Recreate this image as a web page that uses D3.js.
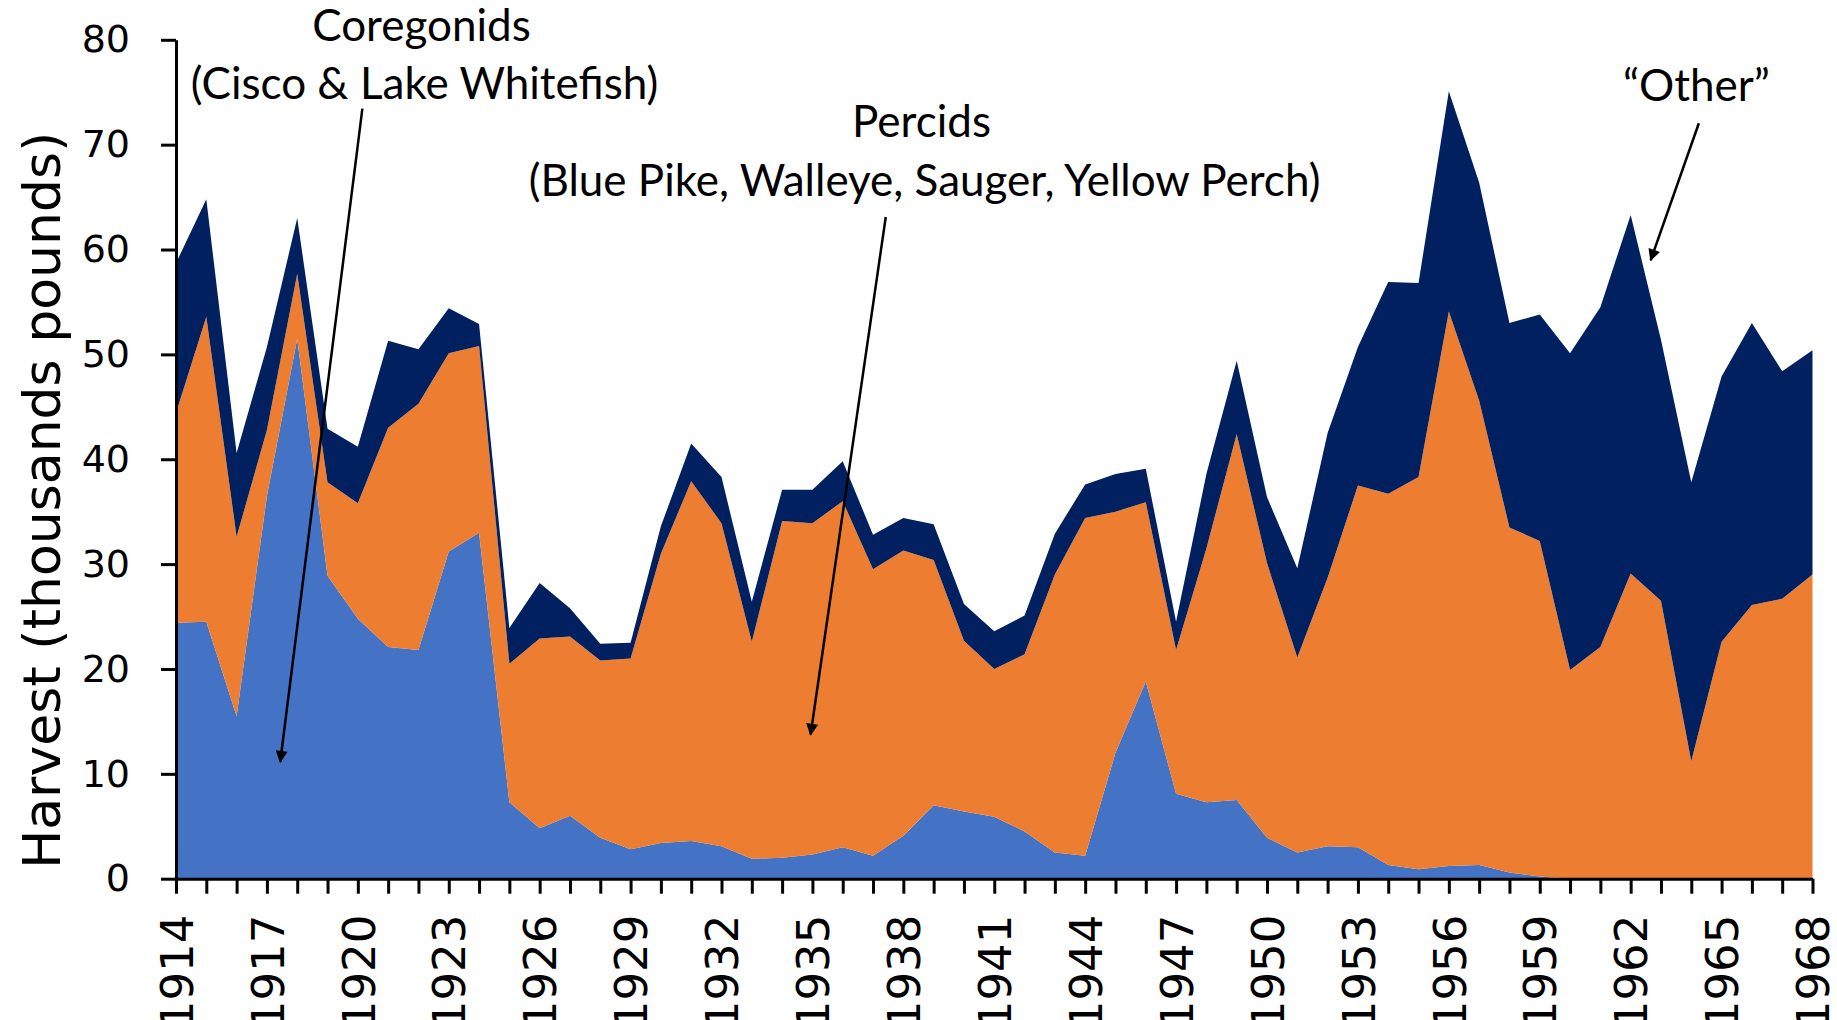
<!DOCTYPE html>
<html>
<head>
<meta charset="utf-8">
<script src="https://cdn.jsdelivr.net/npm/d3@7"></script>
<style>
  html, body { margin: 0; padding: 0; background: #fff; }
  svg { display: block; }
  .axis path, .axis line { stroke: #000; stroke-width: 3; }
  .axis text { fill: #000; font-family: "DejaVu Sans", sans-serif; }
  .note { font-family: Lato, "Open Sans", sans-serif; font-size: 44px; fill: #000; }
</style>
</head>
<body>
<svg id="chart" width="1837" height="1020"></svg>
<script>
// Lake harvest by species group, thousands of pounds
const years = [
  1914, 1915, 1916, 1917, 1918, 1919, 1920, 1921, 1922, 1923,
  1924, 1925, 1926, 1927, 1928, 1929, 1930, 1931, 1932, 1933,
  1934, 1935, 1936, 1937, 1938, 1939, 1940, 1941, 1942, 1943,
  1944, 1945, 1946, 1947, 1948, 1949, 1950, 1951, 1952, 1953,
  1954, 1955, 1956, 1957, 1958, 1959, 1960, 1961, 1962, 1963,
  1964, 1965, 1966, 1967, 1968
];

const coregonids = [
  24.4, 24.5, 15.5, 36.5, 51.5, 28.9, 24.8, 22.1, 21.8, 31.2,
  33.0, 7.3, 4.8, 6.0, 3.9, 2.8, 3.4, 3.6, 3.1, 1.9,
  2.0, 2.3, 3.0, 2.2, 4.1, 7.0, 6.4, 5.9, 4.5, 2.5,
  2.2, 12.0, 18.8, 8.1, 7.3, 7.5, 3.9, 2.5, 3.1, 3.0,
  1.3, 0.9, 1.2, 1.3, 0.6, 0.2, 0, 0, 0, 0,
  0, 0, 0, 0, 0
];

const percids = [
  20.0, 29.1, 17.1, 6.3, 6.2, 8.9, 11.0, 20.9, 23.5, 18.9,
  17.8, 13.2, 18.1, 17.1, 16.9, 18.2, 27.6, 34.3, 30.8, 20.7,
  32.1, 31.6, 33.0, 27.3, 27.2, 23.4, 16.3, 14.1, 16.9, 26.5,
  32.2, 23.0, 17.1, 13.7, 24.2, 34.9, 26.2, 18.6, 25.6, 34.5,
  35.4, 37.4, 52.9, 44.3, 32.9, 32.0, 19.9, 22.1, 29.1, 26.5,
  11.2, 22.6, 26.1, 26.7, 29.0
];

const other = [
  14.3, 11.2, 8.0, 7.9, 5.3, 5.1, 5.4, 8.3, 5.2, 4.3,
  2.1, 3.4, 5.3, 2.7, 1.6, 1.5, 2.6, 3.6, 4.4, 3.8,
  3.0, 3.2, 3.8, 3.3, 3.1, 3.4, 3.5, 3.6, 3.7, 3.9,
  3.2, 3.6, 3.2, 2.7, 7.1, 7.0, 6.3, 8.5, 13.8, 13.2,
  20.2, 18.5, 21.0, 20.8, 19.5, 21.6, 30.2, 32.4, 34.2, 24.9,
  26.6, 25.3, 26.9, 21.7, 21.4
];

const seriesKeys = ['coregonids', 'percids', 'other'];
const seriesColors = ['#4472C4', '#ED7D31', '#002060'];

const yTicks = [0, 10, 20, 30, 40, 50, 60, 70, 80];
const xLabelYears = [1914, 1917, 1920, 1923, 1926, 1929, 1932, 1935, 1938,
  1941, 1944, 1947, 1950, 1953, 1956, 1959, 1962, 1965, 1968];

// annotation text lines and arrows, in data units (year, thousands of pounds)
const notes = [
  { year: 1922.1, value: 79.85, text: 'Coregonids' },
  { year: 1922.2, value: 74.4, text: '(Cisco & Lake Whitefish)' },
  { year: 1938.6, value: 70.7, text: 'Percids' },
  { year: 1938.7, value: 65.1, text: '(Blue Pike, Walleye, Sauger, Yellow Perch)' },
  { year: 1964.17, value: 74.17, text: '\u201COther\u201D' }
];
const arrows = [
  { from: [1920.15, 73.44], to: [1917.44, 11.15] },
  { from: [1937.42, 63.1], to: [1934.94, 13.74] },
  { from: [1964.25, 72.04], to: [1962.66, 58.98] }
];

const svg = d3.select('#chart');

const x = d3.scaleLinear().domain([1914, 1968]).range([176, 1812.5]);
const y = d3.scaleLinear().domain([0, 80]).range([878.7, 39.8]);

const rows = years.map((yr, i) => ({
  year: yr,
  coregonids: coregonids[i],
  percids: percids[i],
  other: other[i]
}));

const stacked = d3.stack().keys(seriesKeys)(rows);

const area = d3.area()
  .x(d => x(d.data.year))
  .y0(d => y(d[0]))
  .y1(d => y(d[1]));

svg.append('g')
  .attr('class', 'areas')
  .selectAll('path')
  .data(stacked)
  .join('path')
  .attr('fill', (d, i) => seriesColors[i])
  .attr('d', area);

// y axis
const yAxis = svg.append('g')
  .attr('class', 'axis')
  .attr('transform', `translate(${x.range()[0]},0)`)
  .call(d3.axisLeft(y).tickValues(yTicks).tickSize(15).tickSizeOuter(0).tickPadding(31));
yAxis.selectAll('text').style('font-size', '38px');

// x axis: a tick every year, a label every third year
const xAxis = svg.append('g')
  .attr('class', 'axis')
  .attr('transform', `translate(0,${y(0)})`)
  .call(d3.axisBottom(x)
    .tickValues(years)
    .tickSize(15)
    .tickSizeOuter(0)
    .tickFormat(d => xLabelYears.includes(d) ? String(d) : ''));
xAxis.selectAll('text')
  .style('font-size', '45px')
  .attr('transform', 'rotate(-90)')
  .attr('text-anchor', 'end')
  .attr('x', -36)
  .attr('y', 0)
  .attr('dy', '0.36em');

// y axis title
svg.append('text')
  .attr('transform', `translate(60,${(y(0) + y(80)) / 2 + 41}) rotate(-90)`)
  .attr('text-anchor', 'middle')
  .style('font-family', '"DejaVu Sans", sans-serif')
  .style('font-size', '52px')
  .text('Harvest (thousands pounds)');

// annotations
const defs = svg.append('defs');
defs.append('marker')
  .attr('id', 'arrow-head')
  .attr('viewBox', '0 -5 10 10')
  .attr('refX', 9)
  .attr('refY', 0)
  .attr('markerUnits', 'userSpaceOnUse')
  .attr('markerWidth', 16)
  .attr('markerHeight', 12)
  .attr('orient', 'auto')
  .append('path')
  .attr('d', 'M0,-5L10,0L0,5Z')
  .attr('fill', '#000');

svg.append('g')
  .attr('class', 'arrows')
  .selectAll('line')
  .data(arrows)
  .join('line')
  .attr('x1', d => x(d.from[0]))
  .attr('y1', d => y(d.from[1]))
  .attr('x2', d => x(d.to[0]))
  .attr('y2', d => y(d.to[1]))
  .attr('stroke', '#000')
  .attr('stroke-width', 2.5)
  .attr('marker-end', 'url(#arrow-head)');

svg.append('g')
  .attr('class', 'notes')
  .selectAll('text')
  .data(notes)
  .join('text')
  .attr('class', 'note')
  .attr('x', d => x(d.year))
  .attr('y', d => y(d.value))
  .attr('text-anchor', 'middle')
  .text(d => d.text);
</script>
</body>
</html>
